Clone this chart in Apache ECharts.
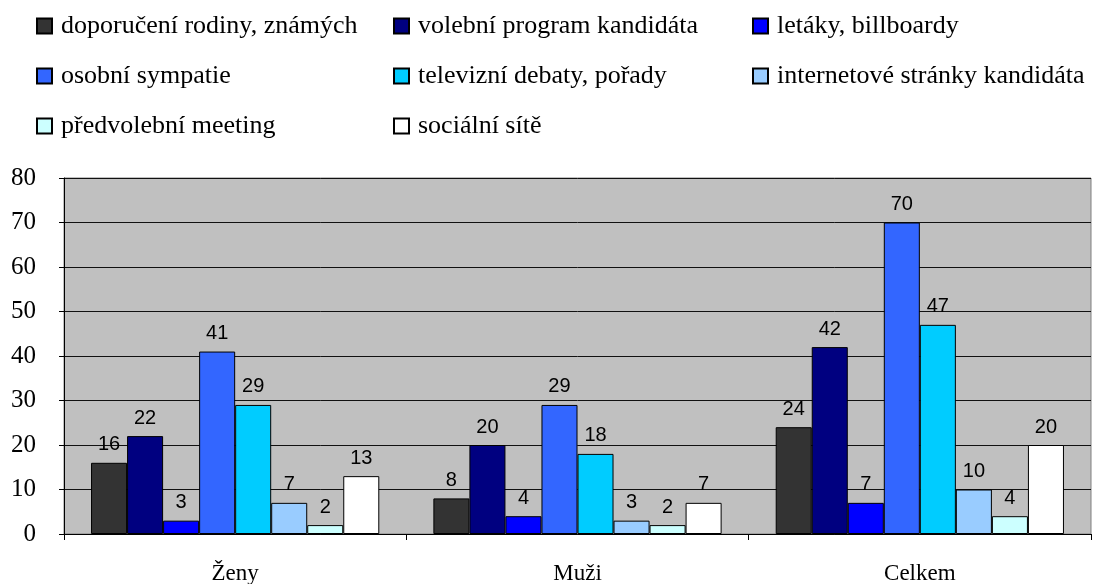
<!DOCTYPE html>
<html><head><meta charset="utf-8">
<script src="https://cdn.jsdelivr.net/npm/echarts@6/dist/echarts.min.js"></script>
<style>html,body{margin:0;padding:0;background:#fff}#c{width:1094px;height:584px}</style>
</head><body><div id="c"></div>
<script>
const categories = ['Ženy', 'Muži', 'Celkem'];
const seriesNames = ['doporučení rodiny, známých', 'volební program kandidáta', 'letáky, billboardy', 'osobní sympatie', 'televizní debaty, pořady', 'internetové stránky kandidáta', 'předvolební meeting', 'sociální sítě'];
const doporuceni = [16, 8, 24];
const volebni = [22, 20, 42];
const letaky = [3, 4, 7];
const osobni = [41, 29, 70];
const televizni = [29, 18, 47];
const internetove = [7, 3, 10];
const predvolebni = [2, 2, 4];
const socialni = [13, 7, 20];
const yTicks = [0, 10, 20, 30, 40, 50, 60, 70, 80];
const values = [doporuceni, volebni, letaky, osobni, televizni, internetove, predvolebni, socialni];
const colors = ['#333333', '#000080', '#0000FF', '#3366FF', '#00CCFF', '#99CCFF', '#CCFFFF', '#FFFFFF'];

const serif = '"Liberation Serif", "Times New Roman", serif';
const legendBase = {
  orient: 'vertical', itemWidth: 15, itemHeight: 15, itemGap: 24, icon: 'rect',
  textStyle: { fontFamily: serif, fontSize: 26, color: '#000', lineHeight: 26, padding: [0, 0, 0, 4] },
  selectedMode: false, padding: 0
};
const chart = echarts.init(document.getElementById('c'));
chart.setOption({
  animation: false,
  legend: [
    Object.assign({}, legendBase, { left: 36, top: 13, data: [seriesNames[0], seriesNames[3], seriesNames[6]] }),
    Object.assign({}, legendBase, { left: 393, top: 13, data: [seriesNames[1], seriesNames[4], seriesNames[7]] }),
    Object.assign({}, legendBase, { left: 752, top: 13, data: [seriesNames[2], seriesNames[5]] })
  ],
  grid: { left: 64, right: 3, top: 178, bottom: 50, outerBoundsMode: 'none', containLabel: false,
    show: true, backgroundColor: '#C0C0C0', borderColor: '#808080', borderWidth: 1 },
  xAxis: {
    type: 'category', data: categories,
    axisLine: { lineStyle: { color: '#000', width: 1 } },
    axisTick: { show: true, length: 6, lineStyle: { color: '#000' } },
    axisLabel: { fontFamily: serif, fontSize: 23, color: '#000', margin: 28 }
  },
  yAxis: {
    type: 'value', min: 0, max: 80, interval: 10,
    axisLine: { show: true, lineStyle: { color: '#000', width: 1 } },
    axisTick: { show: true, length: 5, lineStyle: { color: '#000' } },
    axisLabel: { fontFamily: serif, fontSize: 25, color: '#000', margin: 28,
      formatter: v => yTicks.includes(v) ? String(v) : '' },
    splitLine: { lineStyle: { color: '#111', width: 1 } }
  },
  series: values.map((d, i) => ({
    name: seriesNames[i], type: 'bar', data: d,
    barGap: '0%', barCategoryGap: '15.8%',
    itemStyle: { color: colors[i], borderColor: '#000', borderWidth: 1 },
    label: { show: true, position: 'top', distance: 8, fontFamily: '"Liberation Sans", Arial, sans-serif', fontSize: 20, color: '#000' }
  }))
});
</script></body></html>
